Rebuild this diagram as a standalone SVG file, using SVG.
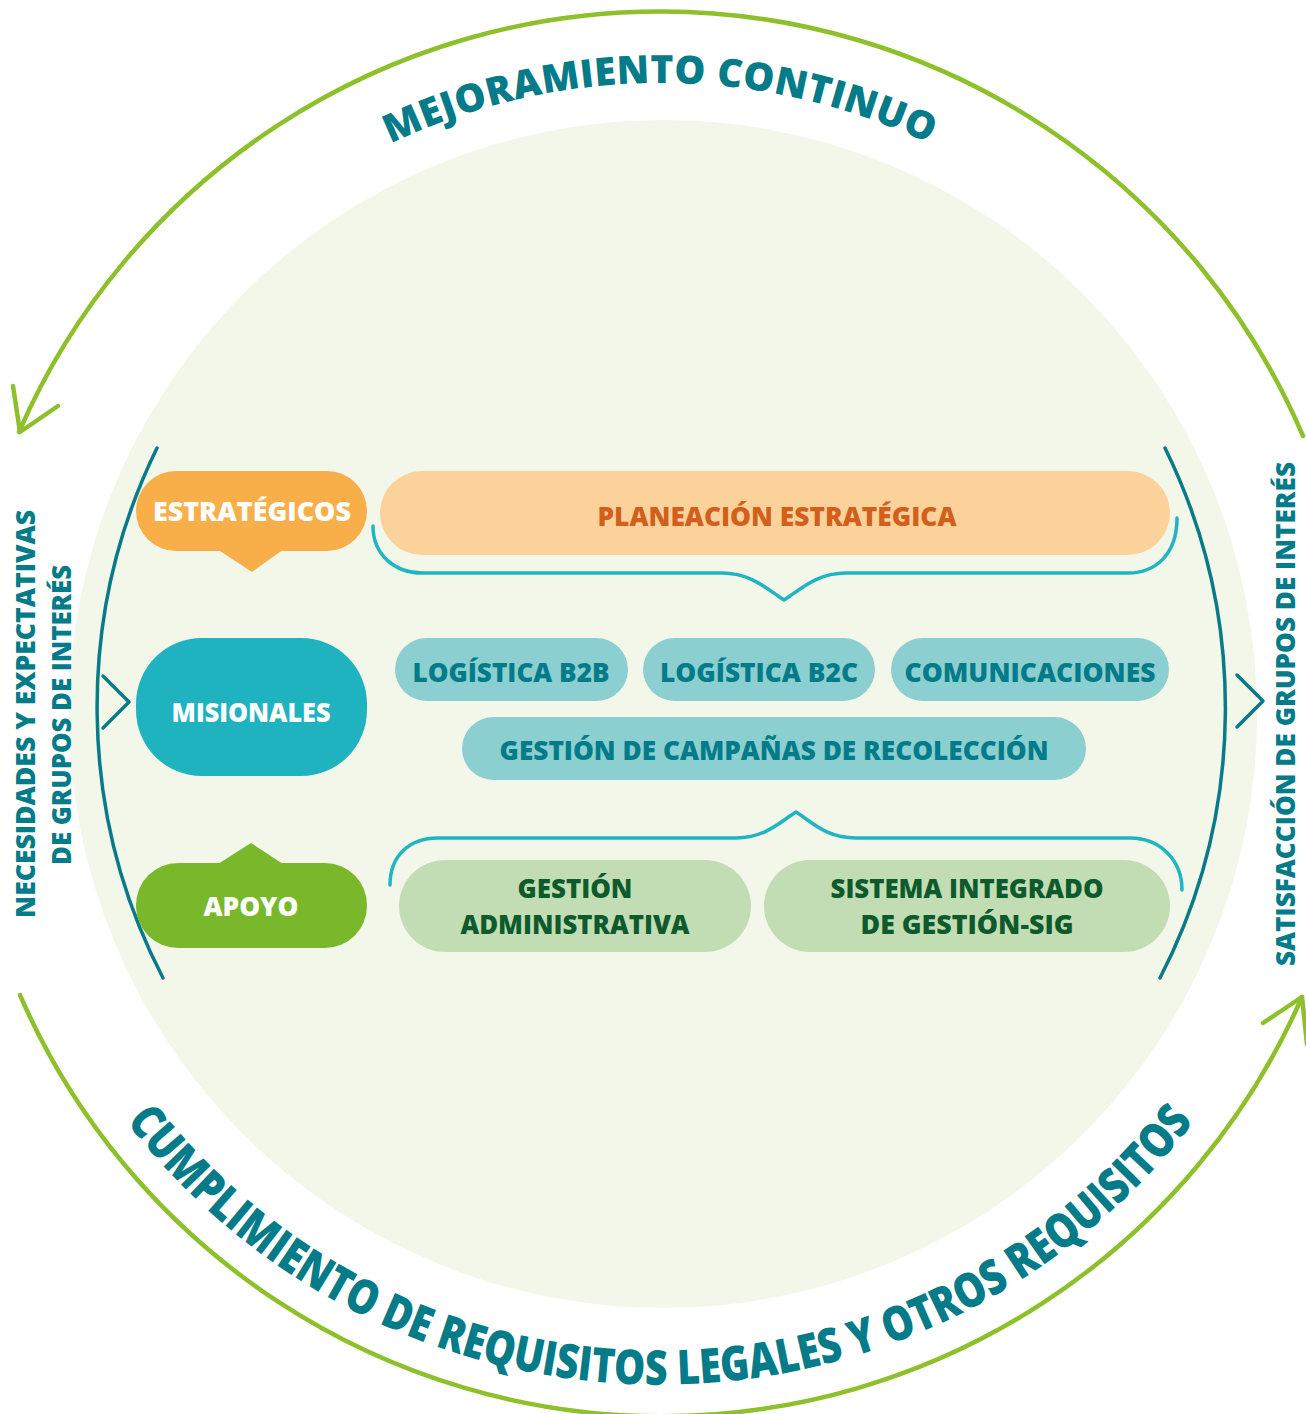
<svg xmlns="http://www.w3.org/2000/svg" xmlns:xlink="http://www.w3.org/1999/xlink" width="1306" height="1414" viewBox="0 0 1306 1414">
<style>
  text { font-family: "Open Sans", "Liberation Sans", sans-serif; font-weight: 800; }
  .white { fill: #ffffff; font-size: 27px; }
  .teal { fill: #037B88; }
  .dgreen { fill: #0D5A2C; font-size: 26px; }
  .mis { fill: #8BCFD0; }
  .apo { fill: #C2DDB3; }
  .green { fill: none; stroke: #8DC02A; stroke-width: 4.5; stroke-linecap: round; stroke-linejoin: round; }
  .dteal { fill: none; stroke: #087A88; stroke-width: 3.5; stroke-linecap: round; stroke-linejoin: round; }
  .brace { fill: none; stroke: #20B5C2; stroke-width: 3.5; stroke-linecap: round; stroke-linejoin: round; }
</style>
<defs>
  <path id="topPath" d="M31,712 A629,629 0 0 1 1289,712"/>
  <path id="botPath" d="M-13,712 A673,673 0 0 0 1333,712"/>
</defs>
<rect width="1306" height="1414" fill="#ffffff"/>
<circle cx="663" cy="714" r="594" fill="#F3F7E9"/>

<g id="connectors">
  <path class="green" d="M1303,436 A699,699 0 0 0 19,432"/>
  <polyline class="green" points="13,386 20,432 58,406"/>
  <path class="green" d="M20,995 A699,699 0 0 0 1302,997"/>
  <polyline class="green" points="1263,1023 1302,997 1307,1044"/>
  <path class="dteal" d="M157,448 A590,590 0 0 0 163,978"/>
  <path class="dteal" d="M1165,448 A590,590 0 0 1 1160,978"/>
  <polyline class="dteal" points="103,676 129,702 103,728"/>
  <polyline class="dteal" points="1237,675 1263,701 1237,727"/>
  <path class="brace" d="M373,526 C373,555 395,573 422,573 L722,573 C752,573 768,590 784,600 C800,590 816,573 846,573 L1128,573 C1155,573 1177,555 1177,518"/>
  <path class="brace" d="M390,885 C390,855 410,838 438,838 L736,838 C765,838 780,822 796,812 C812,822 826,838 856,838 L1130,838 C1160,838 1182,860 1182,890"/>
</g>

<g id="title-top">
  <text class="teal" font-size="39" letter-spacing="0.5"><textPath href="#topPath" xlink:href="#topPath" startOffset="50%" text-anchor="middle">MEJORAMIENTO CONTINUO</textPath></text>
</g>
<g id="title-bottom">
  <text class="teal" font-size="48"><textPath href="#botPath" xlink:href="#botPath" startOffset="50%" text-anchor="middle" textLength="1233" lengthAdjust="spacingAndGlyphs">CUMPLIMIENTO DE REQUISITOS LEGALES Y OTROS REQUISITOS</textPath></text>
</g>

<g id="side-left">
  <text class="teal" font-size="27" text-anchor="middle" transform="translate(35,714) rotate(-90)" textLength="408" lengthAdjust="spacingAndGlyphs">NECESIDADES Y EXPECTATIVAS</text>
  <text class="teal" font-size="27" text-anchor="middle" transform="translate(71,715) rotate(-90)" textLength="300" lengthAdjust="spacingAndGlyphs">DE GRUPOS DE INTERÉS</text>
</g>
<g id="side-right">
  <text class="teal" font-size="27" text-anchor="middle" transform="translate(1295,714) rotate(-90)" textLength="504" lengthAdjust="spacingAndGlyphs">SATISFACCIÓN DE GRUPOS DE INTERÉS</text>
</g>

<g id="estrategicos">
  <rect x="136" y="471" width="231" height="80" rx="40" fill="#F8AF4A"/>
  <polygon points="217,549 252,572 284,549" fill="#F8AF4A"/>
  <text class="white" x="252" y="521" font-size="28" text-anchor="middle" textLength="198" lengthAdjust="spacingAndGlyphs">ESTRATÉGICOS</text>
</g>
<g id="planeacion">
  <rect x="380" y="471" width="790" height="84" rx="42" fill="#FCD29B"/>
  <text x="777" y="526" font-size="27" fill="#D25F1B" text-anchor="middle" textLength="359" lengthAdjust="spacingAndGlyphs">PLANEACIÓN ESTRATÉGICA</text>
</g>

<g id="misionales">
  <rect x="136" y="638" width="231" height="138" rx="66" fill="#1FB3C0"/>
  <text class="white" x="251" y="722" text-anchor="middle" textLength="159" lengthAdjust="spacingAndGlyphs">MISIONALES</text>
</g>
<g id="logistica-b2b">
  <rect class="mis" x="395" y="638" width="233" height="63" rx="31.5"/>
  <text class="teal" x="511" y="682" font-size="27" text-anchor="middle" textLength="197" lengthAdjust="spacingAndGlyphs">LOGÍSTICA B2B</text>
</g>
<g id="logistica-b2c">
  <rect class="mis" x="643" y="638" width="232" height="63" rx="31.5"/>
  <text class="teal" x="759" y="682" font-size="27" text-anchor="middle" textLength="198" lengthAdjust="spacingAndGlyphs">LOGÍSTICA B2C</text>
</g>
<g id="comunicaciones">
  <rect class="mis" x="891" y="638" width="278" height="63" rx="31.5"/>
  <text class="teal" x="1030" y="682" font-size="27" text-anchor="middle" textLength="251" lengthAdjust="spacingAndGlyphs">COMUNICACIONES</text>
</g>
<g id="campanas">
  <rect class="mis" x="462" y="717" width="624" height="63" rx="31.5"/>
  <text class="teal" x="774" y="760" font-size="27" text-anchor="middle" textLength="549" lengthAdjust="spacingAndGlyphs">GESTIÓN DE CAMPAÑAS DE RECOLECCIÓN</text>
</g>

<g id="apoyo">
  <rect x="136" y="863" width="231" height="85" rx="42" fill="#79B82B"/>
  <polygon points="218,864 251,843 283,864" fill="#79B82B"/>
  <text class="white" x="251" y="916" text-anchor="middle" textLength="95" lengthAdjust="spacingAndGlyphs">APOYO</text>
</g>
<g id="gestion-administrativa">
  <rect class="apo" x="399" y="860" width="352" height="92" rx="46"/>
  <text class="dgreen" x="575" y="898" text-anchor="middle" textLength="115" lengthAdjust="spacingAndGlyphs">GESTIÓN</text>
  <text class="dgreen" x="575" y="934" text-anchor="middle" textLength="229" lengthAdjust="spacingAndGlyphs">ADMINISTRATIVA</text>
</g>
<g id="sig">
  <rect class="apo" x="764" y="860" width="406" height="92" rx="46"/>
  <text class="dgreen" x="967" y="898" text-anchor="middle" textLength="273" lengthAdjust="spacingAndGlyphs">SISTEMA INTEGRADO</text>
  <text class="dgreen" x="967" y="934" text-anchor="middle" textLength="213" lengthAdjust="spacingAndGlyphs">DE GESTIÓN-SIG</text>
</g>
</svg>
